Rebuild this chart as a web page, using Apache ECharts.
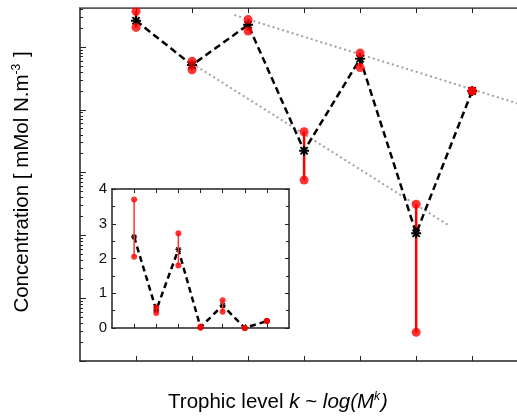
<!DOCTYPE html>
<html>
<head>
<meta charset="utf-8">
<script src="https://cdn.jsdelivr.net/npm/echarts@6/dist/echarts.min.js"></script>
<style>
  html, body { margin: 0; padding: 0; background: #fff; }
  #chart { width: 517px; height: 419px; }
</style>
</head>
<body>
<div id="chart"></div>
<script>
// Trophic levels and nitrogen concentration per level (mMol N.m-3)
const levels = [1, 2, 3, 4, 5, 6, 7];
const meanConc = [2.62, 0.515, 2.26, 0.0223, 0.65, 0.00108, 0.2];
const lowConc = [2.05, 0.435, 1.8, 0.0076, 0.47, 0.0000286, 0.2];
const highConc = [3.7, 0.592, 2.73, 0.0448, 0.8, 0.00313, 0.2];

// Power-law guide lines (level, concentration) end points
const fitLower = [[2, 0.546], [6.59, 0.00143]];
const fitUpper = [[2.755, 3.23], [7.8, 0.127]];

// Log-axis tick layout: decade exponents and minor multipliers
const decadeExponents = [-5, -4, -3, -2, -1, 0];
const minorMultipliers = [2, 3, 4, 5, 6, 7, 8, 9];
const insetTickLabels = ['0', '1', '2', '3', '4'];

const LOG_MIN = 1e-5;
const LOG_MAX = 4.18;
const minorTickExps = [];
decadeExponents.forEach(function (d) {
  minorMultipliers.forEach(function (m) {
    const e = d + Math.log10(m);
    if (e <= Math.log10(LOG_MAX)) minorTickExps.push(e);
  });
});

const FONT = 'Liberation Sans, Arial, Helvetica, sans-serif';
const AXIS_COLOR = '#222';
const STAR = 'path://M0,-5L0,5M-5,0L5,0M-3.6,-3.6L3.6,3.6M-3.6,3.6L3.6,-3.6';

const meanPts = levels.map(function (k, i) { return [k, meanConc[i]]; });
const barPts = levels.map(function (k, i) { return [k, lowConc[i], highConc[i]]; });
const dotPts = levels.map(function (k, i) { return [k, lowConc[i]]; })
  .concat(levels.map(function (k, i) { return [k, highConc[i]]; }));

function errorBar(width, color) {
  return function (params, api) {
    const p0 = api.coord([api.value(0), api.value(1)]);
    const p1 = api.coord([api.value(0), api.value(2)]);
    return {
      type: 'line',
      shape: { x1: p0[0], y1: p0[1], x2: p1[0], y2: p1[1] },
      style: { stroke: color, lineWidth: width }
    };
  };
}

function frameX(grid, max, pos, len) {
  return {
    type: 'value', gridIndex: grid, position: pos, offset: 0, min: 0, max: max,
    axisLine: { show: true, onZero: false, lineStyle: { color: AXIS_COLOR, width: 1.5 } },
    axisTick: { show: true, inside: true, length: len, customValues: levels,
                lineStyle: { color: AXIS_COLOR, width: 1 } },
    axisLabel: { show: false },
    splitLine: { show: false }
  };
}

function logTickAxis(values, len) {
  return {
    type: 'value', gridIndex: 0, position: 'left', offset: 0,
    min: -5, max: Math.log10(LOG_MAX),
    axisLine: { show: false, onZero: false },
    axisTick: { show: true, inside: true, length: len, customValues: values,
                lineStyle: { color: AXIS_COLOR, width: 1 } },
    axisLabel: { show: false }, splitLine: { show: false }
  };
}

const chart = echarts.init(document.getElementById('chart'), null, { renderer: 'canvas' });

chart.setOption({
  animation: false,
  backgroundColor: '#fff',
  grid: [
    { left: 80, top: 8, right: 0, bottom: 58, containLabel: false },
    { left: 112, top: 189, width: 177, height: 139, containLabel: false,
      show: true, backgroundColor: '#fff', borderWidth: 0, z: 5 }
  ],
  xAxis: [
    frameX(0, 7.8, 'bottom', 5),
    frameX(0, 7.8, 'top', 5),
    Object.assign(frameX(1, 8, 'bottom', 4), { z: 6 }),
    Object.assign(frameX(1, 8, 'top', 4), { z: 6 })
  ],
  yAxis: [
    {
      type: 'log', gridIndex: 0, position: 'left', offset: 0,
      min: LOG_MIN, max: LOG_MAX, logBase: 10,
      axisLine: { show: true, onZero: false, lineStyle: { color: AXIS_COLOR, width: 1.5 } },
      axisTick: { show: false }, axisLabel: { show: false }, splitLine: { show: false }
    },
    logTickAxis(decadeExponents, 6),
    logTickAxis(minorTickExps, 3),
    {
      type: 'value', gridIndex: 1, position: 'left', offset: 0, min: 0, max: 4, interval: 1, z: 6,
      axisLine: { show: true, onZero: false, lineStyle: { color: AXIS_COLOR, width: 1.5 } },
      axisTick: { show: true, inside: true, length: 4, lineStyle: { color: AXIS_COLOR, width: 1 } },
      minorTick: { show: true, splitNumber: 2, length: 3, lineStyle: { color: AXIS_COLOR, width: 1 } },
      axisLabel: { show: true, fontSize: 15, fontFamily: FONT, color: '#111', margin: 5,
                   formatter: function (v) { return insetTickLabels[v]; } },
      splitLine: { show: false }
    },
    {
      type: 'value', gridIndex: 1, position: 'right', offset: 0, min: 0, max: 4, interval: 1, z: 6,
      axisLine: { show: true, onZero: false, lineStyle: { color: AXIS_COLOR, width: 1.5 } },
      axisTick: { show: true, inside: true, length: 4, lineStyle: { color: AXIS_COLOR, width: 1 } },
      minorTick: { show: true, splitNumber: 2, length: 3, lineStyle: { color: AXIS_COLOR, width: 1 } },
      axisLabel: { show: false }, splitLine: { show: false }
    }
  ],
  series: [
    // guide lines
    { type: 'line', xAxisIndex: 0, yAxisIndex: 0, data: fitLower, symbol: 'none', silent: true, z: 1,
      lineStyle: { color: '#a0a0a0', width: 2, type: [2, 3] } },
    { type: 'line', xAxisIndex: 0, yAxisIndex: 0, data: fitUpper, symbol: 'none', silent: true, z: 1,
      lineStyle: { color: '#a0a0a0', width: 2, type: [2, 3] } },
    // spread of concentration per level
    { type: 'custom', xAxisIndex: 0, yAxisIndex: 0, data: barPts, z: 2,
      encode: { x: 0, y: [1, 2] }, renderItem: errorBar(2.5, '#ff0000') },
    // mean concentration
    { type: 'line', xAxisIndex: 0, yAxisIndex: 0, data: meanPts, z: 3,
      symbol: STAR, symbolSize: 10, showSymbol: true,
      itemStyle: { color: '#000', borderColor: '#000', borderWidth: 2 },
      lineStyle: { color: '#000', width: 2.5, type: [7, 4] } },
    // extreme values
    { type: 'scatter', xAxisIndex: 0, yAxisIndex: 0, data: dotPts, z: 4,
      symbol: 'circle', symbolSize: 9, itemStyle: { color: '#ff0000' } },

    // linear inset
    { type: 'line', xAxisIndex: 2, yAxisIndex: 3, data: meanPts, z: 7,
      symbol: STAR, symbolSize: 6, showSymbol: true,
      itemStyle: { color: '#000', borderColor: '#000', borderWidth: 1.2 },
      lineStyle: { color: '#000', width: 2.5, type: [6, 4] } },
    { type: 'custom', xAxisIndex: 2, yAxisIndex: 3, data: barPts, z: 8,
      encode: { x: 0, y: [1, 2] }, renderItem: errorBar(1.5, '#ff3030') },
    { type: 'scatter', xAxisIndex: 2, yAxisIndex: 3, data: dotPts, z: 9,
      symbol: 'circle', symbolSize: 6, itemStyle: { color: '#ff0000' } }
  ],
  graphic: [
    // keep markers from spilling over the top frame
    { type: 'rect', left: 80, top: 0, shape: { width: 437, height: 7.2 }, z: 15,
      style: { fill: '#fff' }, silent: true },
    {
      type: 'text', x: 278, y: 402, z: 20,
      style: {
        text: '{n|Trophic level }{i|k}{n| ~ }{i|log(M}{s|k}{i|)}',
        align: 'center', verticalAlign: 'middle',
        rich: {
          n: { fontFamily: FONT, fontSize: 20.5, fill: '#000' },
          i: { fontFamily: FONT, fontSize: 20.5, fontStyle: 'italic', fill: '#000' },
          s: { fontFamily: FONT, fontSize: 12, fontStyle: 'italic', fill: '#000', padding: [0, 1, 11, 0] }
        }
      }
    },
    {
      type: 'text', x: 22, y: 182, rotation: Math.PI / 2, z: 20,
      style: {
        text: '{n|Concentration [ mMol N.m}{s|-3}{n| ]}',
        align: 'center', verticalAlign: 'middle',
        rich: {
          n: { fontFamily: FONT, fontSize: 20.5, fill: '#000' },
          s: { fontFamily: FONT, fontSize: 12, fill: '#000', padding: [0, 1, 11, 0] }
        }
      }
    }
  ]
});
</script>
</body>
</html>
